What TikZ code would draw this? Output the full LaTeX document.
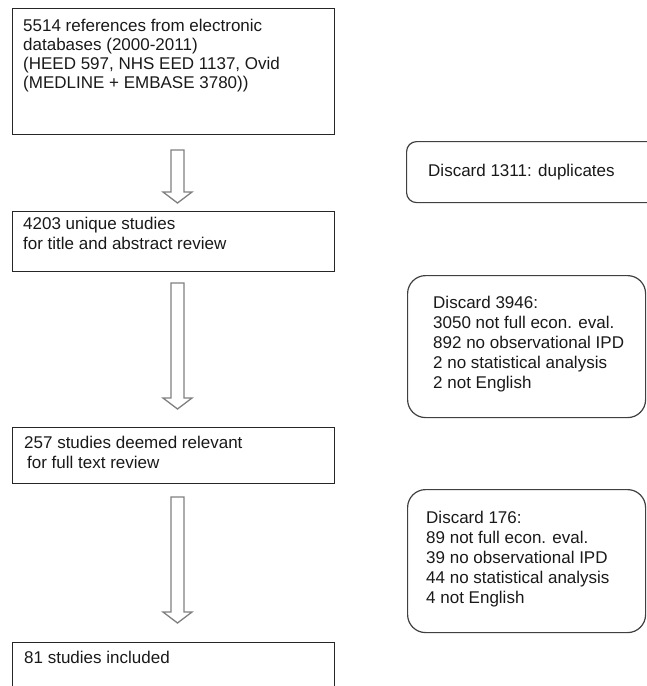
\documentclass[tikz,border=0pt]{standalone}
\usepackage{fontspec}
\setmainfont{Liberation Sans}
\newcommand\blockarrowpath[2]{%
  \draw[blockarrow] (171,#1) -- (184,#1) -- (184,#2-11) -- (192,#2-11) -- (177.5,#2)
    -- (163,#2-11) -- (171,#2-11) -- cycle;}
\begin{document}
\begin{tikzpicture}[x=1pt,y=-1pt,
  box/.style={draw=black!85, line width=1.1pt, anchor=north west, inner sep=0pt, minimum width=322pt},
  rbox/.style={draw=black!75, line width=1.2pt, anchor=north west, inner sep=0pt},
  txt/.style={anchor=base west, inner sep=0pt, align=left, text=black!90},
  blockarrow/.style={draw=black!50, fill=white, line width=1.3pt, line join=miter}]
\useasboundingbox (0,0) rectangle (647,686);
\clip (0,0) rectangle (647,686);
% left column boxes
\node[box, minimum height=126pt] (b1) at (12,8) {};
\node[box, minimum height=60pt] (b2) at (12,211) {};
\node[box, minimum height=56pt] (b3) at (12,427) {};
\node[box, minimum height=70pt] (b4) at (12,642) {};
% right column boxes
\node[rbox, rounded corners=10pt, minimum width=262pt, minimum height=61pt] (d1) at (406,141) {};
\node[rbox, rounded corners=18pt, minimum width=238pt, minimum height=142pt] (d2) at (407,275) {};
\node[rbox, rounded corners=18pt, minimum width=238pt, minimum height=143pt] (d3) at (407,489) {};
% texts (anchor = baseline of the last line)
\node[txt, font=\fontsize{17}{19}\selectfont] (t1) at (23,88)
  {5514 references from electronic\\databases (2000-2011)\\(HEED 597, NHS EED 1137, Ovid\\(MEDLINE + EMBASE 3780))};
\node[txt, font=\fontsize{17}{20.5}\selectfont] (t2) at (23,249.5)
  {4203 unique studies\\for title and abstract review};
\node[txt, font=\fontsize{17}{20.5}\selectfont] (t3) at (24,468.5)
  {257 studies deemed relevant\\\hspace{3pt}for full text review};
\node[txt, font=\fontsize{17}{20}\selectfont] (t4) at (24,663) {81 studies included};
\node[txt, font=\fontsize{17}{20}\selectfont] (td1) at (428,176) {Discard 1311: duplicates};
\node[txt, font=\fontsize{17}{20}\selectfont] (td2) at (433,388)
  {Discard 3946:\\3050 not full econ. eval.\\892 no observational IPD\\2 no statistical analysis\\2 not English};
\node[txt, font=\fontsize{17}{20}\selectfont] (td3) at (426,603)
  {Discard 176:\\89 not full econ. eval.\\39 no observational IPD\\44 no statistical analysis\\4 not English};
% block arrows
\blockarrowpath{150}{203}
\blockarrowpath{283}{409}
\blockarrowpath{497}{623}
\end{tikzpicture}
\end{document}
